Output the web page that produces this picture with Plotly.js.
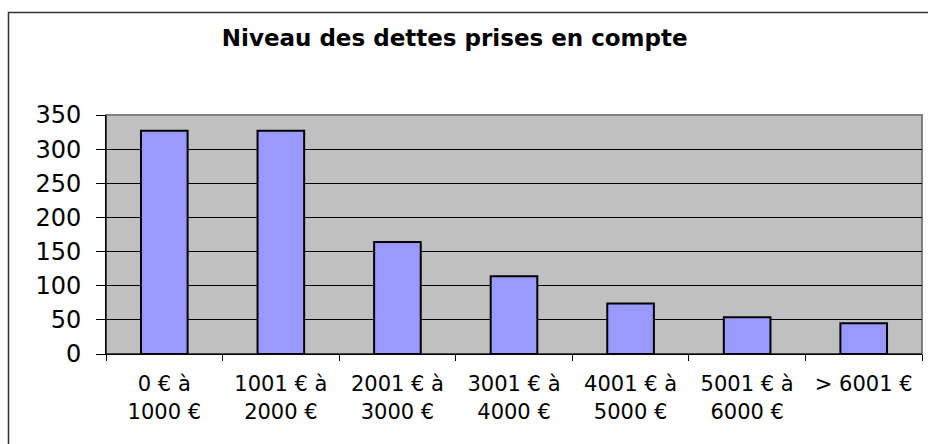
<!DOCTYPE html>
<html>
<head>
<meta charset="utf-8">
<script src="https://cdn.plot.ly/plotly-3.0.1.min.js"></script>
<style>
html,body{margin:0;padding:0;background:#fff;}
#chart{width:928px;height:444px;}
</style>
</head>
<body>
<div id="chart"></div>
<script>
const chartTitle = "Niveau des dettes prises en compte";
const categories = ["0 € à<br>1000 €", "1001 € à<br>2000 €", "2001 € à<br>3000 €", "3001 € à<br>4000 €", "4001 € à<br>5000 €", "5001 € à<br>6000 €", "> 6001 €"];
const values = [327, 327, 164, 114, 74, 54, 45];
const yTicks = [0, 50, 100, 150, 200, 250, 300, 350];

const font = "DejaVu Sans, Verdana, sans-serif";

const trace = {
  type: "bar",
  x: categories,
  y: values,
  width: 0.4,
  marker: {color: "#9999FF", line: {color: "#000000", width: 2}},
  hoverinfo: "x+y"
};

const layout = {
  width: 928,
  height: 444,
  margin: {l: 106, r: 6, t: 115, b: 90, pad: 0},
  paper_bgcolor: "#ffffff",
  plot_bgcolor: "#C0C0C0",
  showlegend: false,
  title: {
    text: "<b>" + chartTitle + "</b>",
    font: {family: font, size: 23, color: "#000"},
    x: 0.49, xanchor: "center",
    y: 0.915, yanchor: "middle"
  },
  xaxis: {
    type: "category",
    range: [-0.5, 6.5],
    tickson: "boundaries",
    ticks: "outside",
    ticklen: 6,
    tickcolor: "#000",
    tickwidth: 1,
    showline: true,
    linecolor: "#000",
    linewidth: 1,
    showgrid: false,
    tickfont: {family: font, size: 21, color: "#000"},
    ticklabelstandoff: 11,
    fixedrange: true
  },
  yaxis: {
    range: [0, 350],
    tickvals: yTicks,
    ticktext: yTicks.map(String),
    ticks: "outside",
    ticklen: 9,
    tickcolor: "#000",
    showline: true,
    linecolor: "#000",
    linewidth: 1,
    showgrid: true,
    gridcolor: "#000",
    gridwidth: 1,
    zeroline: false,
    tickfont: {family: font, size: 24, color: "#000"},
    ticklabelstandoff: 10,
    fixedrange: true
  },
  shapes: [
    {type: "rect", xref: "paper", yref: "paper", x0: 0, x1: 1, y0: 0, y1: 1,
     line: {color: "#808080", width: 2}, layer: "below", fillcolor: "rgba(0,0,0,0)"},
    {type: "line", xref: "paper", yref: "paper", x0: 0, x1: 0, y0: 0, y1: 1,
     line: {color: "#000", width: 1}},
    {type: "line", xref: "paper", yref: "paper", x0: 0, x1: 1, y0: 0, y1: 0,
     line: {color: "#000", width: 1}}
  ]
};

Plotly.newPlot("chart", [trace], layout, {displayModeBar: false, staticPlot: true}).then(function(){
  const svg = document.querySelector("#chart .main-svg");
  const ns = "http://www.w3.org/2000/svg";
  const r = document.createElementNS(ns, "rect");
  r.setAttribute("x", "8.5"); r.setAttribute("y", "12.5");
  r.setAttribute("width", "930"); r.setAttribute("height", "440");
  r.setAttribute("fill", "none"); r.setAttribute("stroke", "#333"); r.setAttribute("stroke-width", "1.5");
  svg.appendChild(r);
});
</script>
</body>
</html>
